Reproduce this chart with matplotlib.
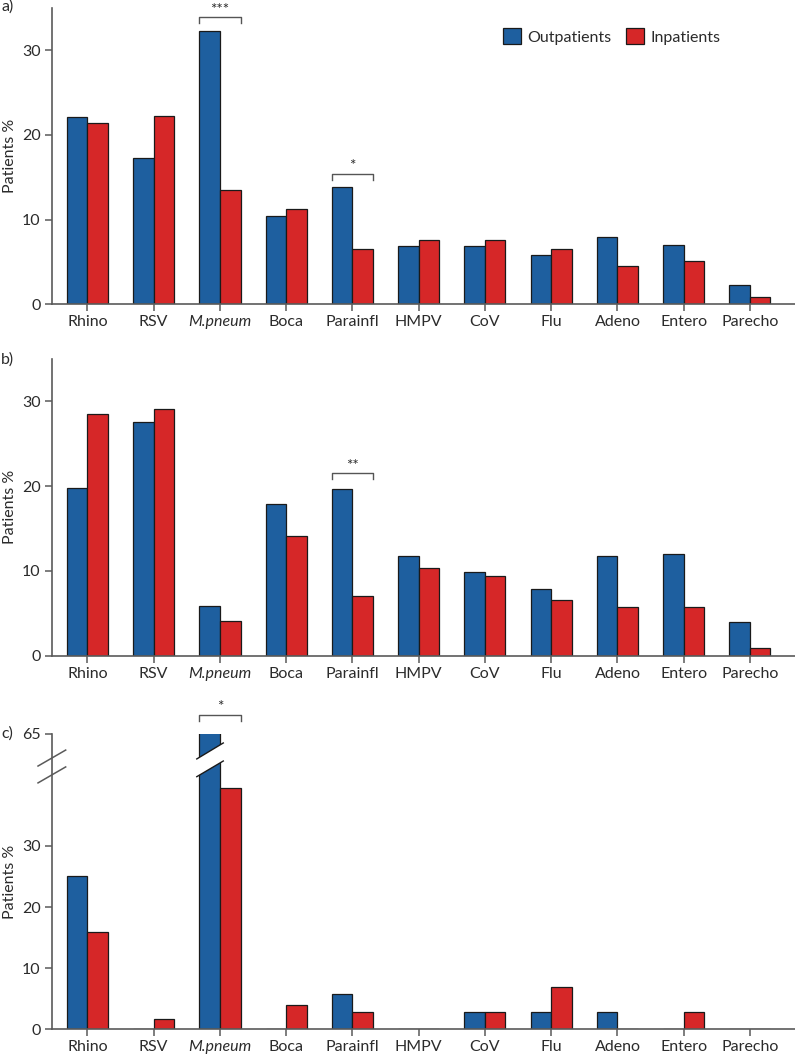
import numpy as np
import matplotlib
matplotlib.use("Agg")
import matplotlib.pyplot as plt
from matplotlib.transforms import blended_transform_factory
from matplotlib.patches import Polygon, Patch

plt.rcParams['font.family'] = ['Lato', 'DejaVu Sans']

categories = ["Rhino", "RSV", "M.pneum", "Boca", "Parainfl", "HMPV", "CoV",
              "Flu", "Adeno", "Entero", "Parecho"]
series_names = ["Outpatients", "Inpatients"]

a_out = [22.1, 17.3, 32.3, 10.45, 13.8, 6.9, 6.9, 5.85, 8.0, 7.0, 2.25]
a_in = [21.4, 22.3, 13.5, 11.3, 6.5, 7.6, 7.6, 6.5, 4.55, 5.1, 0.85]

b_out = [19.8, 27.6, 5.8, 17.9, 19.6, 11.8, 9.9, 7.85, 11.8, 11.95, 3.95]
b_in = [28.5, 29.1, 4.1, 14.1, 7.0, 10.3, 9.35, 6.55, 5.7, 5.7, 0.9]

c_out = [25.1, 0, 65.7, 0, 5.8, 0, 2.9, 2.9, 2.9, 0, 0]
c_in = [16.0, 1.7, 39.5, 4.0, 2.9, 0, 2.8, 7.0, 0, 2.9, 0]

# significance annotations: (category index, label)
a_sig = [(2, "***"), (4, "*")]
b_sig = [(4, "**")]
c_sig = [(2, "*")]

BLUE = "#1e5f9f"
RED = "#d62728"
SPINE = "#5a5a5a"
TXT = "#2b2b2b"
W = 0.31

# broken-axis scale for panel c
B, U, G = 44.0, 61.0, 0.4


def fwd(v):
    v = np.asarray(v, dtype=float)
    return np.where(v <= B, v,
                    np.where(v >= U, v - (U - B) + G, B + (v - B) * G / (U - B)))


def inv(w):
    w = np.asarray(w, dtype=float)
    return np.where(w <= B, w,
                    np.where(w >= B + G, w - G + (U - B), B + (w - B) * (U - B) / G))


fig = plt.figure(figsize=(7.95, 10.6), dpi=100)
left = 51.7 / 795
width = 1 - left
H = 1060.0
ax_a = fig.add_axes([left, 1 - 304.3 / H, width, (304.3 - 8) / H])
ax_b = fig.add_axes([left, 1 - 655.5 / H, width, (655.5 - 359) / H])
ax_c = fig.add_axes([left, 1 - 1029.3 / H, width, (1029.3 - 733.5) / H])

x = np.arange(len(categories))


def style(ax, ymax, yticks):
    ax.bar(x - W / 2, outs[ax], W, color=BLUE, edgecolor="#1a1a1a", linewidth=0.9, zorder=2)
    ax.bar(x + W / 2, ins[ax], W, color=RED, edgecolor="#1a1a1a", linewidth=0.9, zorder=2)
    ax.set_xlim(-0.54, 10.68)
    ax.set_ylim(0, ymax)
    ax.set_yticks(yticks)
    ax.set_xticks(x)
    ax.set_xticklabels(categories)
    for lab in ax.get_xticklabels():
        if lab.get_text() == "M.pneum":
            lab.set_style("italic")
    for s in ["top", "right"]:
        ax.spines[s].set_visible(False)
    for s in ["left", "bottom"]:
        ax.spines[s].set_color(SPINE)
        ax.spines[s].set_linewidth(1.2)
    ax.tick_params(axis="both", direction="out", length=5, width=1.1, color=SPINE,
                   labelsize=11.5, labelcolor=TXT, pad=3)
    ax.set_ylabel("Patients %", fontsize=11.5, color=TXT)
    ax.yaxis.set_label_coords(-0.047, 0.5)


outs = {ax_a: a_out, ax_b: b_out, ax_c: c_out}
ins = {ax_a: a_in, ax_b: b_in, ax_c: c_in}

style(ax_a, 35, [0, 10, 20, 30])
style(ax_b, 35, [0, 10, 20, 30])
ax_c.set_yscale("function", functions=(fwd, inv))
style(ax_c, 65, [0, 10, 20, 30, 65])
ax_c.yaxis.set_minor_locator(matplotlib.ticker.NullLocator())


def bracket(ax, i, label, y0, leg, gap):
    xs = [i - W, i - W, i + W, i + W]
    ys = [y0 - leg, y0, y0, y0 - leg]
    ax.plot(xs, ys, color="#555555", lw=1.0, clip_on=False, zorder=3)
    ax.text(i, y0 + gap, label, ha="center", va="center", fontsize=11, color=TXT,
            clip_on=False)


for i, lab in a_sig:
    top = max(a_out[i], a_in[i])
    bracket(ax_a, i, lab, top + 1.6, 0.7, 0.9)
for i, lab in b_sig:
    top = max(b_out[i], b_in[i])
    bracket(ax_b, i, lab, top + 1.9, 0.7, 0.9)
for i, lab in c_sig:
    # above the broken axis, in the upper segment scale
    top = max(c_out[i], c_in[i])
    bracket(ax_c, i, lab, top + 2.3, 1.0, 1.3)

# break marks on panel c
tr_axes = ax_c.transAxes
for y1, y2 in [(0.890, 0.944), (0.833, 0.887)]:
    ax_c.plot([-0.0184, 0.0188], [y1, y2], color=SPINE, lw=1.1, transform=tr_axes,
              clip_on=False, zorder=5)
tr_bl = blended_transform_factory(ax_c.transData, ax_c.transAxes)
i = 2
xl, xr = i - 0.35, i + 0.05
up = (0.914, 0.968)
lo = (0.854, 0.907)
poly = Polygon([[xl, lo[0]], [xr, lo[1]], [xr, up[1]], [xl, up[0]]], closed=True,
               facecolor="white", edgecolor="none", transform=tr_bl, zorder=4)
ax_c.add_patch(poly)
for (y1, y2) in [up, lo]:
    ax_c.plot([xl, xr], [y1, y2], color="#1a1a1a", lw=1.0, transform=tr_bl, zorder=5)

# legend
handles = [Patch(facecolor=BLUE, edgecolor="#1a1a1a", linewidth=0.9),
           Patch(facecolor=RED, edgecolor="#1a1a1a", linewidth=0.9)]
leg = ax_a.legend(handles, series_names, loc="center right", bbox_to_anchor=(0.9, 0.904),
                  ncol=2, frameon=False, fontsize=11.5, handlelength=1.15,
                  handleheight=1.15, handletextpad=0.4, columnspacing=0.9,
                  borderpad=0, borderaxespad=0)
for t in leg.get_texts():
    t.set_color(TXT)

# panel labels
for lab, ypx in [("a)", 7), ("b)", 360), ("c)", 733.5)]:
    fig.text(1 / 795, 1 - ypx / H, lab, ha="left", va="center", fontsize=11.5, color=TXT)

fig.savefig("out.png", dpi=100)
